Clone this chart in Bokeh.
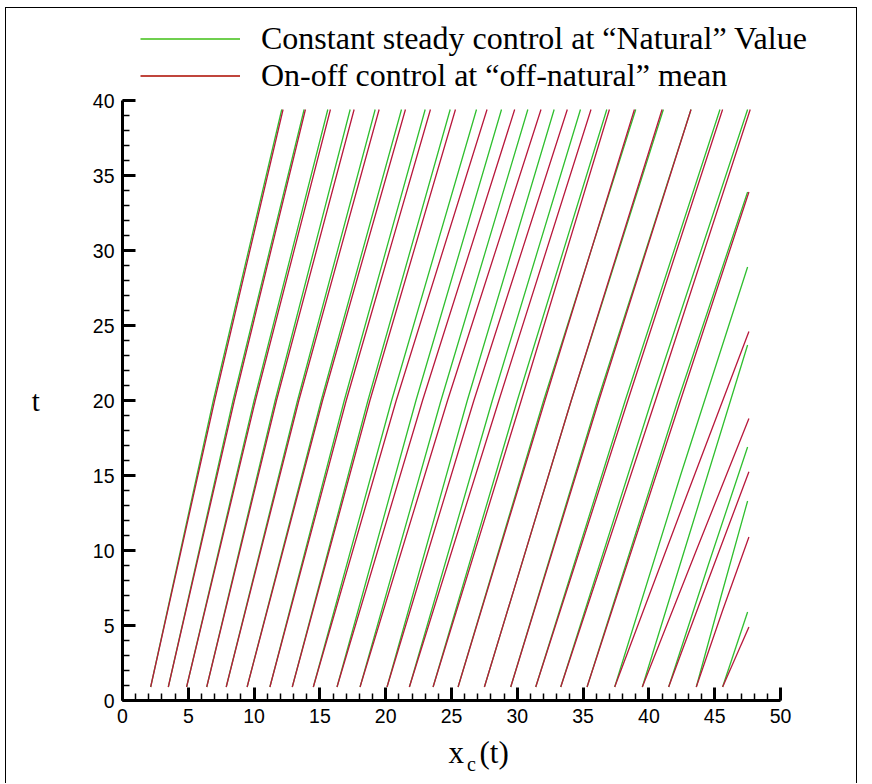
from bokeh.plotting import figure
from bokeh.models import (Range1d, SingleIntervalTicker, FixedTicker, Legend, LegendItem,
                          LinearAxis)
from bokeh.layouts import column
from bokeh.embed import file_html
from bokeh.resources import INLINE
from bokeh.core.properties import value

# ---- data (x_c, t) for each vortex track ----
T0 = 0.9
start_x = [2.14, 3.48, 4.87, 6.4, 7.88, 9.47, 11.2, 12.9, 14.5, 16.3, 18.05, 20.1,
           21.8, 23.6, 25.5, 27.5, 29.5, 31.4, 33.3, 35.3, 37.4, 39.5, 41.5, 43.6, 45.6]

# constant steady control: intermediate + final points per track
green_mid_x = [6.9, 8.4, 10.0, 11.6, 13.3, 15.1, 16.85, 18.65, 20.45, 22.3, 24.2, 26.2,
               28.1, 30.0, 32.0, 34.1, 36.1, 38.2, 40.2, 42.2, 42.4, 43.4, 44.5, 45.5, None]
green_mid_t = [20, 20, 20, 20, 20, 20, 20, 20, 20, 20, 20, 20,
               20, 20, 20, 20, 20, 20, 20, 20, 15, 12, 9, 7, None]
green_end_x = [12.1, 13.8, 15.6, 17.3, 19.2, 21.2, 23.0, 24.9, 26.9, 28.8, 30.8, 32.8,
               34.8, 36.8, 39.0, 41.1, 43.2, 45.4, 47.5, 47.5, 47.5, 47.5, 47.5, 47.5, 47.5]
green_end_t = [39.4, 39.4, 39.4, 39.4, 39.4, 39.4, 39.4, 39.4, 39.4, 39.4, 39.4, 39.4,
               39.4, 39.4, 39.4, 39.4, 39.4, 39.4, 39.4, 33.9, 28.9, 23.7, 16.9, 13.3, 5.9]

# on-off control
red_mid_x = [7.0, 8.5, 10.1, 11.7, 13.4, 15.2, 17.0, 18.8, 20.8, 22.8, 24.7, 26.7,
             28.6, 30.3, 32.1, 34.1, 36.2, 38.4, 40.5, 42.4, 42.5, 43.6, 44.5, 45.6, None]
red_mid_t = [20, 20, 20, 20, 20, 20, 20, 20, 20, 20, 20, 20,
             20, 20, 20, 20, 20, 20, 20, 20, 12.8, 10, 8, 6, None]
red_end_x = [12.2, 13.9, 15.8, 17.6, 19.5, 21.5, 23.4, 25.3, 27.7, 29.8, 31.8, 33.8,
             35.6, 37.0, 38.9, 41.0, 43.2, 45.6, 47.7, 47.6, 47.6, 47.6, 47.6, 47.6, 47.6]
red_end_t = [39.4, 39.4, 39.4, 39.4, 39.4, 39.4, 39.4, 39.4, 39.4, 39.4, 39.4, 39.4,
             39.4, 39.4, 39.4, 39.4, 39.4, 39.4, 39.4, 33.9, 24.6, 18.8, 15.25, 10.9, 4.9]

legend_labels = ["Constant steady control at \u201cNatural\u201d Value",
                 "On-off control at \u201coff-natural\u201d mean"]
x_ticks_interval = 5
y_ticks_interval = 5
NB = "\u00a0"
GREEN = "#2fbf2f"
RED = "#b8183c"
serif = "Liberation Serif"


def tracks(mid_x, mid_t, end_x, end_t):
    xs, ys = [], []
    for i, x0 in enumerate(start_x):
        px, pt = [x0], [T0]
        if mid_x[i] is not None:
            px.append(mid_x[i]); pt.append(mid_t[i])
        px.append(end_x[i]); pt.append(end_t[i])
        xs.append(px); ys.append(pt)
    return xs, ys


gxs, gys = tracks(green_mid_x, green_mid_t, green_end_x, green_end_t)
rxs, rys = tracks(red_mid_x, red_mid_t, red_end_x, red_end_t)

W = 850
H_TOP = 90          # legend strip (page y 8 .. 98)
OVERLAP = 12        # main plot starts OVERLAP px above the strip's bottom
MAIN_Y0 = 8 + H_TOP - OVERLAP      # page y of main canvas top
H_MAIN = 783 - MAIN_Y0
FRAME_TOP = 100 - MAIN_Y0
FRAME_BOTTOM = 700 - MAIN_Y0

# ---------- legend strip ----------
pt_ = figure(width=W, height=H_TOP, output_backend="svg", toolbar_location=None,
             x_range=Range1d(0, 1), y_range=Range1d(0, 1),
             x_axis_type=None, y_axis_type=None, min_border=0)
pt_.grid.visible = False
pt_.outline_line_color = None
pt_.border_fill_color = "white"
# legend samples: renderers kept out of view, only their legend glyphs show
lg_g = pt_.line(x=[-5, -4], y=[-5, -4], line_color="#6fcf4f", line_width=2)
lg_r = pt_.line(x=[-5, -4], y=[-5, -4], line_color="#c0453c", line_width=2)
legend = Legend(items=[LegendItem(label=value(legend_labels[0]), renderers=[lg_g]),
                       LegendItem(label=value(legend_labels[1]), renderers=[lg_r])],
                location=(134, H_TOP - 85.5), orientation="vertical",
                glyph_width=100, glyph_height=33, label_height=33,
                label_standoff=21, padding=0, margin=0, spacing=-6,
                border_line_color=None, background_fill_alpha=0,
                label_text_font=serif, label_text_font_size="32px",
                label_text_color="black")
pt_.add_layout(legend)

# ---------- main plot ----------
p = figure(width=W, height=H_MAIN, output_backend="svg", toolbar_location=None,
           x_range=Range1d(0, 50), y_range=Range1d(0, 40),
           min_border_left=116, min_border_right=W - 774, min_border_top=FRAME_TOP,
           min_border_bottom=H_MAIN - FRAME_BOTTOM, margin=(-OVERLAP, 0, 0, 0))
p.grid.visible = False
p.outline_line_color = None
p.background_fill_color = "white"
p.border_fill_color = "white"
p.border_fill_alpha = 0

for fig in (pt_, p):
    try:
        fig.frame_align = False
    except Exception:
        pass

p.multi_line(gxs, gys, line_color=GREEN, line_width=1.3)
p.multi_line(rxs, rys, line_color=RED, line_width=1.3)

for ax, iv in ((p.xaxis[0], x_ticks_interval), (p.yaxis[0], y_ticks_interval)):
    ax.ticker = SingleIntervalTicker(interval=iv, num_minor_ticks=5)
    ax.axis_line_width = 3
    ax.axis_line_color = "black"
    ax.major_tick_in = 13
    ax.major_tick_out = 0
    ax.major_tick_line_width = 3
    ax.minor_tick_in = 7
    ax.minor_tick_out = 0
    ax.minor_tick_line_width = 1.5
    ax.major_label_text_font = "Liberation Sans"
    ax.major_label_text_font_size = "19.5px"
    ax.major_label_text_color = "black"
    ax.major_label_standoff = 8
    ax.axis_label_text_font = serif
    ax.axis_label_text_font_style = "normal"
    ax.axis_label_text_color = "black"

# y label "t"
p.yaxis[0].axis_label = "t"
p.yaxis[0].axis_label_orientation = "horizontal"
p.yaxis[0].axis_label_text_font_size = "29px"
p.yaxis[0].axis_label_standoff = 50

# x label "x_c(t)": main part on the axis, subscript on a bare second axis
p.xaxis[0].axis_label = NB * 7 + "x" + NB * 2 + "(t)"
p.xaxis[0].axis_label_text_font_size = "31px"
p.xaxis[0].axis_label_standoff = 9

sub_axis = LinearAxis(ticker=FixedTicker(ticks=[]), axis_line_color=None,
                      major_tick_line_color=None, minor_tick_line_color=None,
                      major_label_text_font_size="0px",
                      axis_label=NB * 8 + "c", axis_label_text_font=serif,
                      axis_label_text_font_size="20px", axis_label_text_font_style="normal",
                      axis_label_text_color="black", axis_label_standoff=-20)
p.add_layout(sub_axis, "below")

page = column(pt_, p, margin=(7, 0, 0, 5),
              styles={"border-left": "1px solid black", "border-top": "1px solid black",
                      "border-right": "1px solid black"})

open("out.html", "w").write(file_html(page, INLINE))
